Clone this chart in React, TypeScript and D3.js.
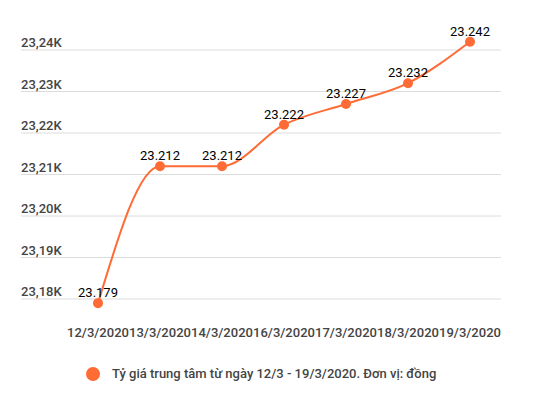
import React from "react";
import * as d3 from "d3";

const categories = ["12/3/2020", "13/3/2020", "14/3/2020", "16/3/2020", "17/3/2020", "18/3/2020", "19/3/2020"];
const values = [23179, 23212, 23212, 23222, 23227, 23232, 23242];
const yTicks = [23180, 23190, 23200, 23210, 23220, 23230, 23240];
const seriesName = "Tỷ giá trung tâm từ ngày 12/3 - 19/3/2020. Đơn vị: đồng";

const W = 537, H = 394;
const COLOR = "#ff6b35";
const FONT = "Roboto, 'Noto Sans', sans-serif";

export default function App() {
  const x = d3.scaleBand<string>().domain(categories).range([67, 501]);
  const y = d3.scaleLinear().domain([23180, 23240]).range([299, 50]);
  const cx = (c: string) => (x(c) as number) + x.bandwidth() / 2;
  const line = d3
    .line<number>()
    .x((_, i) => cx(categories[i]))
    .y((v) => y(v))
    .curve(d3.curveMonotoneX);
  const fmtTick = (v: number) => (v / 1000).toFixed(2).replace(".", ",") + "K";
  const fmtVal = (v: number) => (v / 1000).toFixed(3);

  return (
    <svg width={W} height={H} style={{ position: "absolute", left: 0, top: 0, background: "#fff" }} fontFamily={FONT}>
      {yTicks.map((t) => (
        <g key={t}>
          <line x1={21} x2={501} y1={y(t)} y2={y(t)} stroke="#dcdcdc" strokeWidth={1} />
          <text x={21} y={y(t) - 3} fontSize={13} fill="#444" fontWeight={500}>
            {fmtTick(t)}
          </text>
        </g>
      ))}
      <path d={line(values) || ""} fill="none" stroke={COLOR} strokeWidth={2} />
      {values.map((v, i) => (
        <g key={i}>
          <circle cx={cx(categories[i])} cy={y(v)} r={5} fill={COLOR} />
          <text x={cx(categories[i])} y={y(v) - 6} fontSize={13} fill="#000" textAnchor="middle">
            {fmtVal(v)}
          </text>
        </g>
      ))}
      {categories.map((c) => (
        <text key={c} x={cx(c)} y={337} fontSize={13} fill="#444" fontWeight={500} textAnchor="middle">
          {c}
        </text>
      ))}
      <circle cx={93} cy={374} r={7} fill={COLOR} />
      <text x={112} y={378} fontSize={13} fill="#444" fontWeight={500}>
        {seriesName}
      </text>
    </svg>
  );
}
